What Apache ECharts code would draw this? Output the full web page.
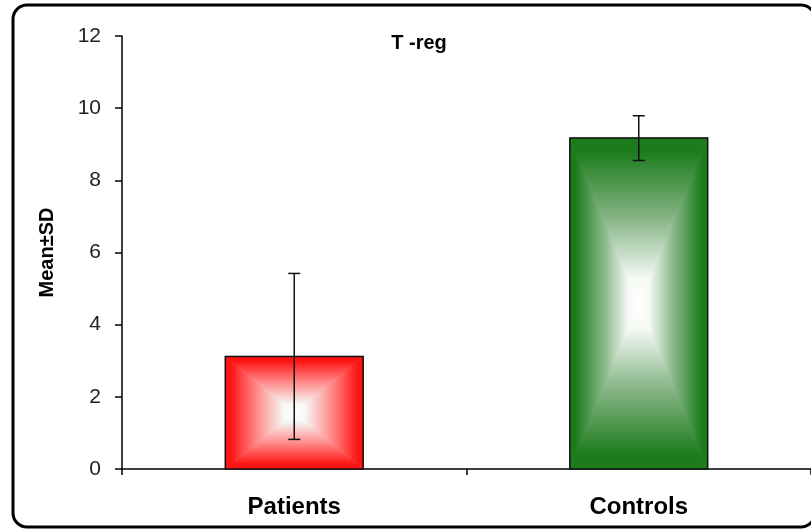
<!DOCTYPE html>
<html>
<head>
<meta charset="utf-8">
<script src="https://cdn.jsdelivr.net/npm/echarts@6/dist/echarts.min.js"></script>
<style>
html,body{margin:0;padding:0;background:#fff;}
#chart{width:811px;height:529px;}
</style>
</head>
<body>
<div id="chart"></div>
<script>
var categories = ['Patients', 'Controls'];
var means = [3.12, 9.17];
var sds = [2.3, 0.62];
var barEdgeColors = ['#FF1414', '#1C7C1C'];
var barMidColors = ['#FF9090', '#84B484'];
var yTicks = [0, 2, 4, 6, 8, 10, 12];

var chart = echarts.init(document.getElementById('chart'));
var FONT = '"Liberation Sans", Arial, sans-serif';

function lerpTriangle(pts, from, to, color, mid) {
  var grad = new echarts.graphic.LinearGradient(from[0], from[1], to[0], to[1], [
    { offset: 0, color: color },
    { offset: 0.08, color: color },
    { offset: 0.48, color: mid },
    { offset: 0.85, color: '#F6F9F6' },
    { offset: 1, color: '#FFFFFF' }
  ], true);
  return {
    type: 'polygon',
    shape: { points: pts },
    style: { fill: grad, stroke: grad, lineWidth: 0.8 }
  };
}

var barData = categories.map(function (c, i) { return [i, means[i]]; });
var errData = categories.map(function (c, i) { return [i, means[i] - sds[i], means[i] + sds[i]]; });

var option = {
  animation: false,
  backgroundColor: '#fff',
  title: {
    text: 'T -reg',
    left: 414,
    top: 28,
    textAlign: 'center',
    textStyle: { fontFamily: FONT, fontSize: 20, fontWeight: 'bold', color: '#000' }
  },
  grid: { left: 122, top: 36, width: 694, bottom: 60 },
  xAxis: {
    type: 'category',
    data: categories,
    axisLine: { lineStyle: { color: '#000', width: 1.5 } },
    axisTick: { show: true, length: 6, lineStyle: { color: '#000', width: 1.5 } },
    axisLabel: { margin: 26, fontFamily: FONT, fontSize: 24, fontWeight: 'bold', color: '#000' },
    splitLine: { show: false }
  },
  yAxis: {
    type: 'value',
    min: 0, max: 12, interval: 2,
    name: 'Mean±SD',
    nameLocation: 'middle',
    nameGap: 65,
    nameTextStyle: { fontFamily: FONT, fontSize: 20, fontWeight: 'bold', color: '#000' },
    axisLine: { show: true, lineStyle: { color: '#000', width: 1.5 } },
    axisTick: { show: true, length: 7, lineStyle: { color: '#000', width: 1.5 } },
    axisLabel: {
      margin: 21, fontFamily: FONT, fontSize: 21, color: '#222',
      formatter: function (v) { return yTicks.indexOf(v) >= 0 ? String(v) : ''; }
    },
    splitLine: { show: false }
  },
  graphic: [{
    type: 'rect',
    shape: { x: 13, y: 5, width: 802, height: 522, r: 14 },
    style: { fill: null, stroke: '#000', lineWidth: 3 },
    z: 100
  }],
  series: [{
    type: 'custom',
    data: barData,
    renderItem: function (params, api) {
      var idx = api.value(0);
      var top = api.coord([idx, api.value(1)]);
      var base = api.coord([idx, 0]);
      var w = api.size([1, 0])[0] * 0.4;
      var x0 = top[0] - w / 2, x1 = top[0] + w / 2;
      var y0 = top[1], y1 = base[1];
      var cx = top[0], cy = (y0 + y1) / 2;
      var col = barEdgeColors[params.dataIndex];
      var mid = barMidColors[params.dataIndex];
      return {
        type: 'group',
        children: [
          lerpTriangle([[x0, y0], [x1, y0], [cx, cy]], [0, y0], [0, cy], col, mid),
          lerpTriangle([[x0, y1], [x1, y1], [cx, cy]], [0, y1], [0, cy], col, mid),
          lerpTriangle([[x0, y0], [x0, y1], [cx, cy]], [x0, 0], [cx, 0], col, mid),
          lerpTriangle([[x1, y0], [x1, y1], [cx, cy]], [x1, 0], [cx, 0], col, mid),
          {
            type: 'rect',
            shape: { x: x0, y: y0, width: w, height: y1 - y0 },
            style: { fill: null, stroke: '#111', lineWidth: 1.5 }
          }
        ]
      };
    }
  }, {
    type: 'custom',
    data: errData,
    z: 5,
    renderItem: function (params, api) {
      var idx = api.value(0);
      var lo = api.coord([idx, api.value(1)]);
      var hi = api.coord([idx, api.value(2)]);
      var cap = 6;
      var st = { stroke: '#111', lineWidth: 1.5 };
      return {
        type: 'group',
        children: [
          { type: 'line', shape: { x1: lo[0], y1: lo[1], x2: hi[0], y2: hi[1] }, style: st },
          { type: 'line', shape: { x1: hi[0] - cap, y1: hi[1], x2: hi[0] + cap, y2: hi[1] }, style: st },
          { type: 'line', shape: { x1: lo[0] - cap, y1: lo[1], x2: lo[0] + cap, y2: lo[1] }, style: st }
        ]
      };
    }
  }]
};
chart.setOption(option);
</script>
</body>
</html>
